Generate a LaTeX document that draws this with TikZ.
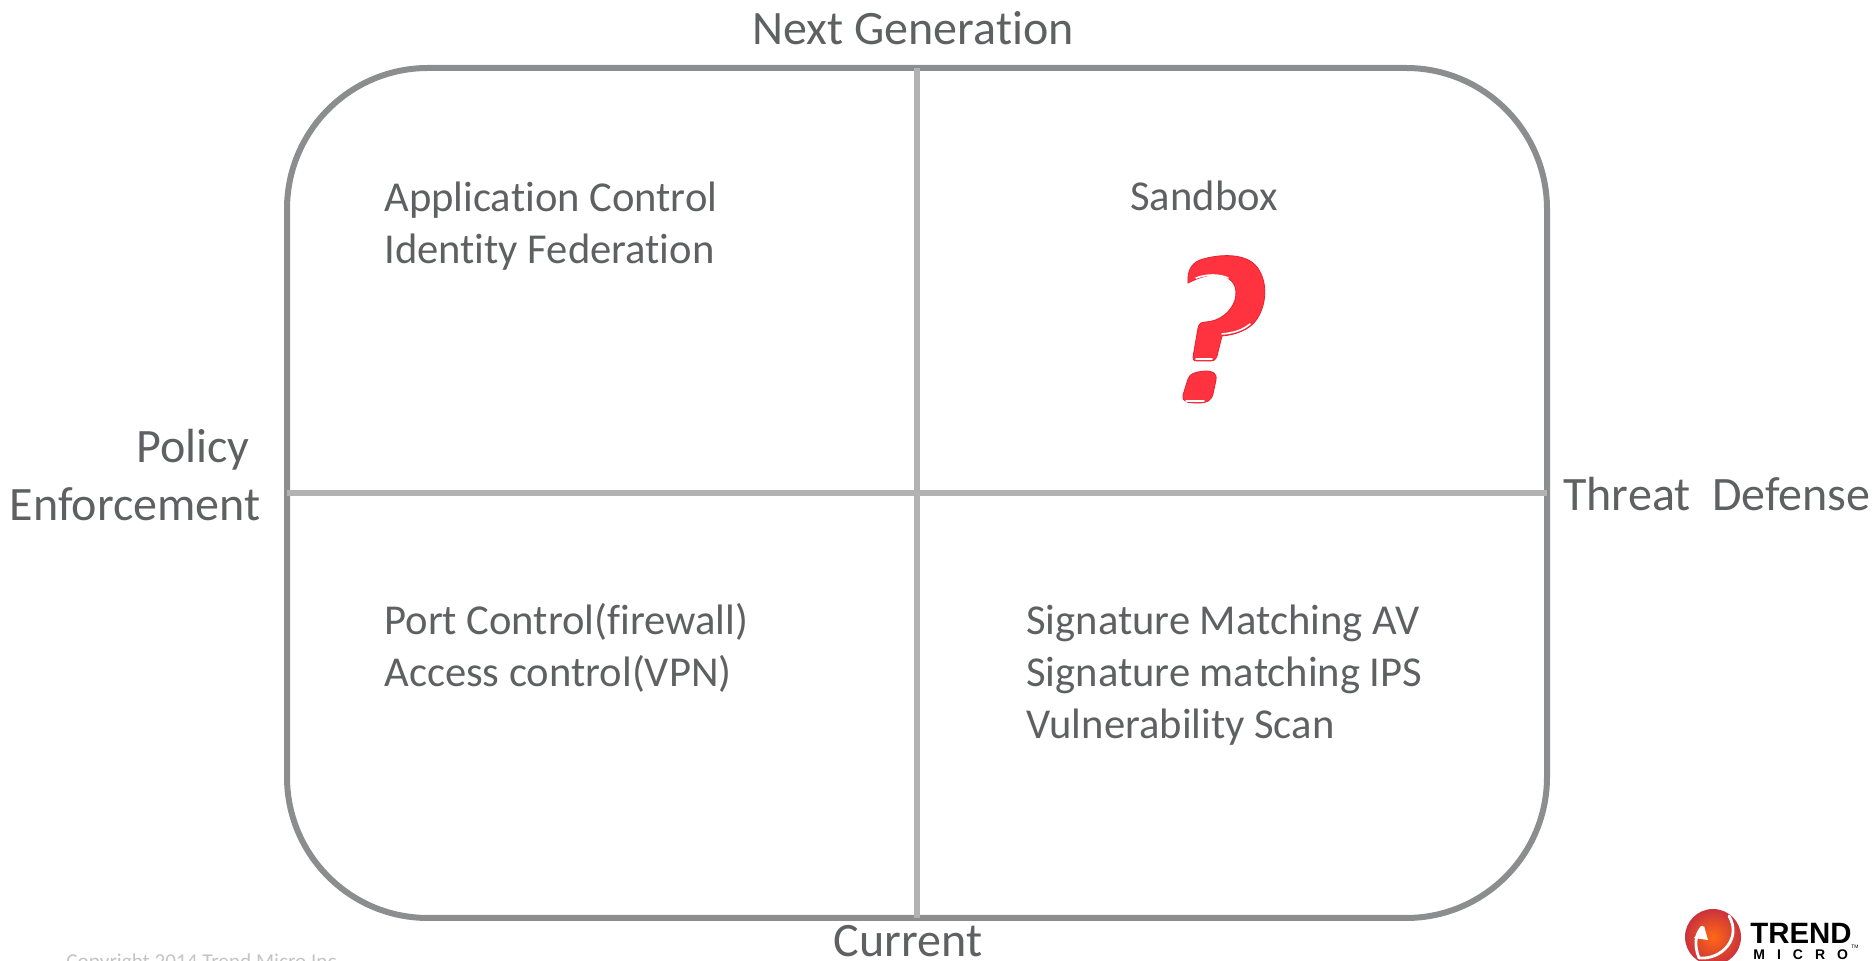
\documentclass[tikz,border=0pt]{standalone}
\usepackage{fontspec}
\setmainfont[Ligatures={NoCommon}]{Carlito}
\newfontfamily\logofont{Liberation Sans}
\usepackage{tikz}
\definecolor{labelgray}{HTML}{5F6062}
\definecolor{framegray}{HTML}{8C8D8E}
\definecolor{crossgray}{HTML}{B2B2B2}
\definecolor{copygray}{HTML}{C4C4C4}
\definecolor{markred}{HTML}{FF3340}
\definecolor{markdark}{HTML}{E8202E}

\begin{document}
\begin{tikzpicture}[x=0.5pt, y=-0.5pt,
    axis/.style={text=labelgray, font=\fontsize{24}{28.7}\selectfont, inner sep=0pt},
    item/.style={text=labelgray, font=\fontsize{21.3}{25.8}\selectfont, inner sep=0pt, align=left, anchor=north west},
    frame/.style={draw=framegray, line width=3pt, rounded corners=70.5pt, minimum width=630pt, minimum height=425pt, inner sep=0pt, outer sep=0pt},
    cross/.style={draw=crossgray, line width=3pt},
    gleam/.style={draw=white, line width=0.8pt, line cap=round}]
  \clip (0,0) rectangle (1876,961);
  \node (m) [frame] at (917,493) {};
  \path[cross]
  (m.north) edge (m.south)
  (m.west) edge (m.east)
  ;
  \node (next) [axis] at (913,28) {Next Generation};
  \node (current) [axis] at (908,941) {Current};
  \node (policy) [axis, align=right, anchor=east] at (261,475) {Policy\ \ \\Enforcement};
  \node (threat) [axis, anchor=west] at (1563,494) {Threat\ \ Defense};
  \node (appctl) [item] at (384,182) {Application Control\\Identity Federation};
  \node (sandbox) [item] at (1130,181) {Sandbox};
  \node (portctl) [item] at (384,603) {Port Control(firewall)\\Access control(VPN)};
  \node (sigmatch) [item] at (1026,605) {Signature Matching AV\\Signature matching IPS\\Vulnerability Scan};
  \node (copy) [text=copygray, font=\fontsize{10.6}{13}\selectfont, inner sep=0pt, anchor=base west] at (66,969) {Copyright 2014 Trend Micro Inc};

  \fill[markred, draw=markdark, line width=0.4pt]
  (1188,283) .. controls (1187,270) and (1192,262) .. (1203,259)
  .. controls (1225,253) and (1250,254) .. (1259,270)
  .. controls (1268,285) and (1266,305) .. (1257,319)
  .. controls (1250,330) and (1235,335) .. (1222,336)
  -- (1218,352) .. controls (1217,358) and (1215,361) .. (1211,361)
  -- (1197,361) .. controls (1193,361) and (1193,359) .. (1193,357)
  -- (1198,328) .. controls (1199,323) and (1202,322) .. (1206,322)
  .. controls (1220,321) and (1231,312) .. (1235,300)
  .. controls (1238,288) and (1234,279) .. (1222,276)
  .. controls (1210,273) and (1198,278) .. (1188,283) -- cycle;
  \fill[markred, draw=markdark, line width=0.4pt]
  (1188,379) .. controls (1190,373) and (1196,372) .. (1205,371)
  .. controls (1213,371) and (1217,373) .. (1216,380)
  -- (1213,394) .. controls (1211,401) and (1207,403) .. (1198,403)
  .. controls (1187,403) and (1182,402) .. (1183,395) -- cycle;
  \draw[gleam] (1196,278) .. controls (1207,274) and (1219,274) .. (1228,278);
  \draw[gleam] (1222,334) .. controls (1234,333) and (1243,330) .. (1250,324);
  \draw[gleam] (1196,359) -- (1212,359);
  \draw[gleam] (1186,401) -- (1204,401);

  \node (logoball) [circle, minimum size=28pt, inner sep=0pt, inner color=orange!70!markred, outer color=markdark!85!black!90] at (1713,937) {};
  \draw[white, line width=1.4pt, line cap=round] (1729,916) .. controls (1742,938) and (1722,960) .. (1699,958);
  \draw[white, line width=1.4pt, line cap=round] (1699,958) .. controls (1694,945) and (1695,935) .. (1702,927);
  \fill[white] (1694,938) -- (1704,926) -- (1708,940) -- cycle;
  \node (trend) [font=\logofont\bfseries\fontsize{14.7}{14}\selectfont, inner sep=0pt, anchor=base west] at (1750,944) {TREND};
  \node (micro) [font=\logofont\bfseries\fontsize{7}{7}\selectfont, inner sep=0pt, anchor=base west] at (1753,960) {M\hspace{6pt}I\hspace{6pt}C\hspace{6pt}R\hspace{6pt}O};
  \node (tm) [font=\logofont\fontsize{2.5}{3}\selectfont, inner sep=0pt, anchor=base west] at (1851,949) {TM};
\end{tikzpicture}
\end{document}
